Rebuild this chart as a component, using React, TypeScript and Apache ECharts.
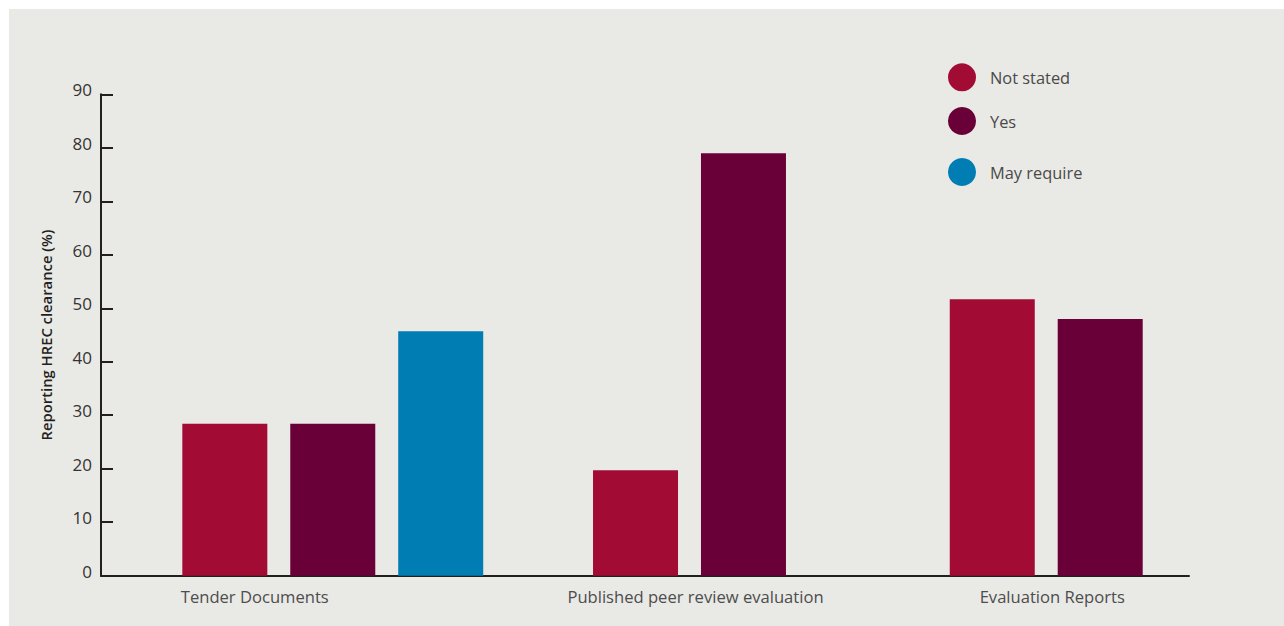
import React, { useEffect, useRef } from "react";
import * as echarts from "echarts";

// Share of documents reporting HREC clearance, by document type
const categories = ["Tender Documents", "Published peer review evaluation", "Evaluation Reports"];
const notStated: (number | null)[] = [28.4, 19.7, 51.7];
const yes: (number | null)[] = [28.4, 79.0, 48.0];
const mayRequire: (number | null)[] = [45.7, null, null];

const seriesNames = ["Not stated", "Yes", "May require"];
const seriesColors = ["#a20b34", "#690037", "#007eb4"];

const Y_MIN = 0;
const Y_MAX = 90;
const Y_STEP = 10;

const FONT = "'Open Sans', 'Noto Sans', sans-serif";
const AXIS_COLOR = "#231f20";

// Groups that carry the third ("May require") bar get their own bar layout
const hasThird = mayRequire.map((v) => v !== null);
const pick = (values: (number | null)[], keep: boolean[]) =>
  values.map((v, i) => (keep[i] ? v : null));
const notKeep = hasThird.map((k) => !k);

export default function App() {
  const ref = useRef<HTMLDivElement>(null);

  useEffect(() => {
    if (!ref.current) return;
    const chart = echarts.init(ref.current, undefined, { renderer: "svg" });

    const gridTop = 85.3;
    const gridBottom = 50.3;

    const barCommon = {
      type: "bar" as const,
      yAxisIndex: 1,
      barWidth: 85,
      barGap: "27%",
      emphasis: { disabled: true },
    };

    const legendAt = (name: string, top: number) => ({
      data: [name],
      left: 934,
      top,
      padding: 5,
      orient: "vertical" as const,
      icon: "circle",
      itemWidth: 28,
      itemHeight: 28,
      selectedMode: false,
      textStyle: {
        fontFamily: FONT,
        fontSize: 16.4,
        color: "#4a4a4a",
        padding: [0, 0, 0, 9],
      },
    });

    const catLabelStyle = { fontFamily: FONT, fontSize: 16.6, color: "#4d4d4d" };
    const tickLabelStyle = { fontFamily: FONT, fontSize: 17, color: "#333333" };

    chart.setOption({
      animation: false,
      backgroundColor: "transparent",
      textStyle: { fontFamily: FONT },
      legend: [
        legendAt(seriesNames[0], 49.3),
        legendAt(seriesNames[1], 93),
        legendAt(seriesNames[2], 144),
      ],
      grid: [
        { left: 92, right: 95, top: gridTop, bottom: gridBottom },
        { left: 145.4, right: 59.4, top: gridTop, bottom: gridBottom },
      ],
      xAxis: [
        {
          type: "category",
          gridIndex: 0,
          data: categories,
          axisLine: { show: true, lineStyle: { color: AXIS_COLOR, width: 2 } },
          axisTick: { show: false },
          axisLabel: { show: false },
          splitLine: { show: false },
        },
        {
          type: "category",
          gridIndex: 1,
          data: categories,
          axisLine: { show: false },
          axisTick: { show: false },
          splitLine: { show: false },
          axisLabel: {
            show: true,
            interval: 0,
            margin: 12,
            ...catLabelStyle,
            formatter: (value: string, index: number) =>
              index === 0 ? `{shift|${value}}` : `{mid|${value}}`,
            rich: {
              shift: { ...catLabelStyle, padding: [0, 156, 0, 0] },
              mid: { ...catLabelStyle, padding: [0, 0, 0, 12] },
            },
          },
        },
        {
          type: "category",
          gridIndex: 1,
          data: categories,
          show: false,
        },
      ],
      yAxis: [
        {
          type: "value",
          gridIndex: 0,
          min: Y_MIN,
          max: Y_MAX,
          interval: Y_STEP,
          name: "Reporting HREC clearance (%)",
          nameLocation: "middle",
          nameRotate: 90,
          nameGap: 48,
          nameTextStyle: {
            fontFamily: FONT,
            fontSize: 14.8,
            fontWeight: 600,
            color: AXIS_COLOR,
          },
          axisLine: { show: true, lineStyle: { color: AXIS_COLOR, width: 2 } },
          axisTick: {
            show: true,
            inside: true,
            length: 12,
            lineStyle: { color: AXIS_COLOR, width: 2 },
          },
          axisLabel: {
            margin: 9,
            ...tickLabelStyle,
            // tick numbers sit a little above their tick marks
            formatter: (value: number) => `{t|${value}}`,
            rich: {
              t: { ...tickLabelStyle, padding: [0, 0, 9, 0] },
            },
          },
          splitLine: { show: false },
        },
        {
          type: "value",
          gridIndex: 1,
          min: Y_MIN,
          max: Y_MAX,
          interval: Y_STEP,
          show: false,
          splitLine: { show: false },
        },
      ],
      series: [
        // three-bar groups
        { ...barCommon, name: seriesNames[0], xAxisIndex: 1, data: pick(notStated, hasThird), itemStyle: { color: seriesColors[0] } },
        { ...barCommon, name: seriesNames[1], xAxisIndex: 1, data: pick(yes, hasThird), itemStyle: { color: seriesColors[1] } },
        { ...barCommon, name: seriesNames[2], xAxisIndex: 1, data: pick(mayRequire, hasThird), itemStyle: { color: seriesColors[2] } },
        // two-bar groups
        { ...barCommon, name: seriesNames[0], xAxisIndex: 2, data: pick(notStated, notKeep), itemStyle: { color: seriesColors[0] } },
        { ...barCommon, name: seriesNames[1], xAxisIndex: 2, data: pick(yes, notKeep), itemStyle: { color: seriesColors[1] } },
      ],
    });

    return () => chart.dispose();
  }, []);

  return (
    <div
      style={{
        position: "absolute",
        left: 0,
        top: 0,
        width: 1284,
        height: 626,
        background: "#ffffff",
      }}
    >
      <div
        ref={ref}
        style={{
          position: "absolute",
          left: 9,
          top: 9,
          width: 1275,
          height: 617,
          background: "#e9e9e5",
        }}
      />
    </div>
  );
}
